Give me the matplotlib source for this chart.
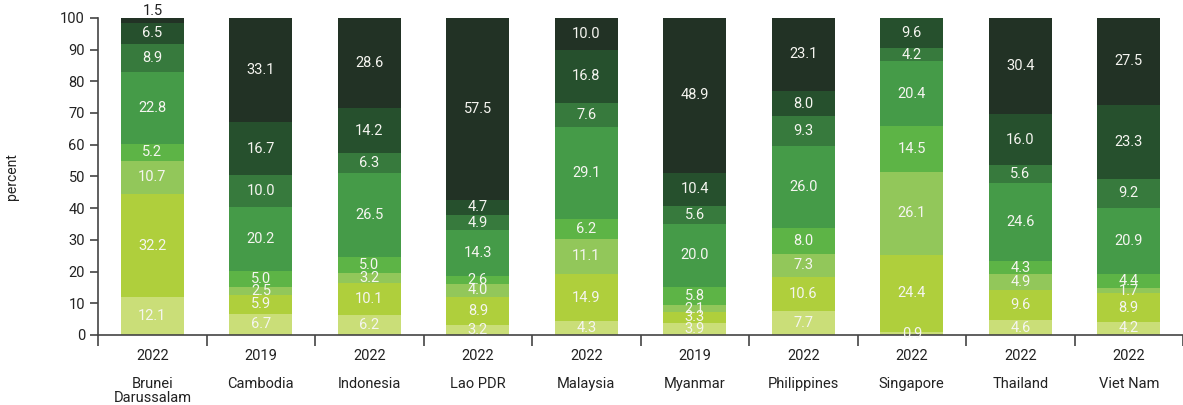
import numpy as np
import matplotlib.pyplot as plt

plt.rcParams['font.family'] = ['Roboto', 'DejaVu Sans']

countries = ['Brunei\nDarussalam', 'Cambodia', 'Indonesia', 'Lao PDR', 'Malaysia',
             'Myanmar', 'Philippines', 'Singapore', 'Thailand', 'Viet Nam']
years = ['2022', '2019', '2022', '2022', '2022', '2019', '2022', '2022', '2022', '2022']

# stacked segments, bottom to top
s1 = [12.1, 6.7, 6.2, 3.2, 4.3, 3.9, 7.7, 0.9, 4.6, 4.2]
s2 = [32.2, 5.9, 10.1, 8.9, 14.9, 3.3, 10.6, 24.4, 9.6, 8.9]
s3 = [10.7, 2.5, 3.2, 4.0, 11.1, 2.1, 7.3, 26.1, 4.9, 1.7]
s4 = [5.2, 5.0, 5.0, 2.6, 6.2, 5.8, 8.0, 14.5, 4.3, 4.4]
s5 = [22.8, 20.2, 26.5, 14.3, 29.1, 20.0, 26.0, 20.4, 24.6, 20.9]
s6 = [8.9, 10.0, 6.3, 4.9, 7.6, 5.6, 9.3, 4.2, 5.6, 9.2]
s7 = [6.5, 16.7, 14.2, 4.7, 16.8, 10.4, 8.0, 9.6, 16.0, 23.3]
s8 = [1.5, 33.1, 28.6, 57.5, 10.0, 48.9, 23.1, 0.0, 30.4, 27.5]
series = [s1, s2, s3, s4, s5, s6, s7, s8]
colors = ['#cade78', '#afcf3c', '#92c75a', '#5db446', '#459b48', '#377a3d', '#26502d', '#223225']

fig = plt.figure(figsize=(11.83, 4.05), dpi=100)
ax = fig.add_axes([0.083, 0.173, 0.917, 0.783])

x = np.arange(len(countries))
bottom = np.zeros(len(countries))
for vals, c in zip(series, colors):
    vals = np.array(vals)
    ax.bar(x, vals, 0.58, bottom=bottom, color=c, linewidth=0)
    for i, v in enumerate(vals):
        if v <= 0:
            continue
        if v < 2 and bottom[i] + v > 95:
            # tiny top segment: label sits above the bar in dark text
            ax.text(x[i], bottom[i] + v + 2.2, f'{v:.1f}', ha='center', va='center',
                    color='#222222', fontsize=10.5, clip_on=False)
        else:
            ax.text(x[i], bottom[i] + v / 2, f'{v:.1f}', ha='center', va='center',
                    color='#f5f5f0', fontsize=10.5)
    bottom += vals

ax.set_xlim(-0.5, 9.4)
ax.set_ylim(0, 100)
ax.set_yticks(range(0, 101, 10))
ax.set_ylabel('percent', fontsize=10, color='#222222', labelpad=30)
ax.set_xticks(x)
ax.set_xticklabels([f'{y}\n\n{c}' for y, c in zip(years, countries)],
                   fontsize=10.5, color='#222222', linespacing=1.0, va='top')
ax.set_xticks(np.arange(-0.5, 10, 1), minor=True)
ax.tick_params(axis='x', which='major', length=0, pad=10)
ax.tick_params(axis='x', which='minor', length=8, width=1.2, color='#444444')
ax.tick_params(axis='y', length=6, width=1.2, color='#444444', labelsize=10.5, labelcolor='#222222')
for s in ['top', 'right']:
    ax.spines[s].set_visible(False)
for s in ['left', 'bottom']:
    ax.spines[s].set_color('#444444')
    ax.spines[s].set_linewidth(1.2)

fig.savefig('out.png')
